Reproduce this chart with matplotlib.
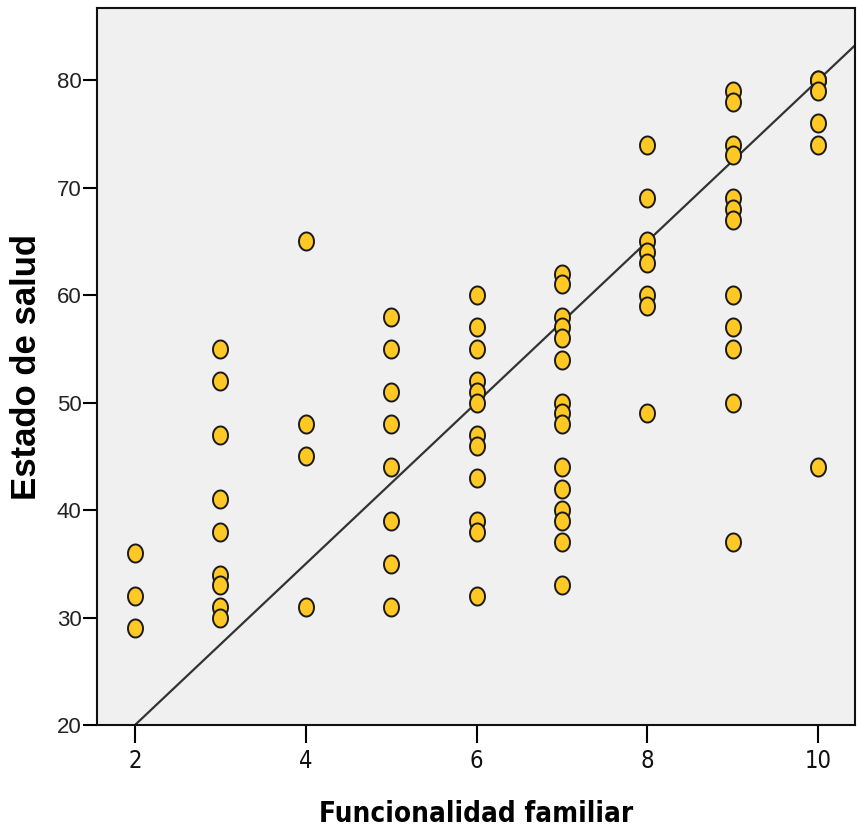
import numpy as np
import matplotlib
matplotlib.use("Agg")
import matplotlib.pyplot as plt
from matplotlib.path import Path

# Data
funcionalidad = [2, 2, 2,
                 3, 3, 3, 3, 3, 3, 3, 3, 3,
                 4, 4, 4, 4,
                 5, 5, 5, 5, 5, 5, 5, 5,
                 6, 6, 6, 6, 6, 6, 6, 6, 6, 6, 6, 6,
                 7, 7, 7, 7, 7, 7, 7, 7, 7, 7, 7, 7, 7, 7, 7,
                 8, 8, 8, 8, 8, 8, 8, 8,
                 9, 9, 9, 9, 9, 9, 9, 9, 9, 9, 9, 9,
                 10, 10, 10, 10, 10, 10]
salud = [36, 32, 29,
         55, 52, 47, 41, 38, 34, 33, 31, 30,
         65, 48, 45, 31,
         58, 55, 51, 48, 44, 39, 35, 31,
         60, 57, 55, 52, 51, 50, 47, 46, 43, 39, 38, 32,
         62, 61, 58, 57, 56, 54, 50, 49, 48, 44, 42, 40, 39, 37, 33,
         74, 69, 65, 64, 63, 60, 59, 49,
         79, 78, 74, 73, 69, 68, 67, 60, 57, 55, 50, 37,
         80, 80, 79, 76, 74, 44]
# Fit line as drawn in the reference
fit_intercept = 5.0
fit_slope = 7.5
x_ticks = [2, 4, 6, 8, 10]
y_ticks = [20, 30, 40, 50, 60, 70, 80]

x = np.array(funcionalidad, dtype=float)
y = np.array(salud, dtype=float)

fig = plt.figure(figsize=(8.57, 8.34), dpi=100)
ax = fig.add_axes([97 / 857, 1 - 725 / 834, (855 - 97) / 857, (725 - 8) / 834])
ax.set_facecolor("#F0F0F0")

xlim = (1.555, 10.43)
ylim = (20, 86.7)
ax.set_xlim(*xlim)
ax.set_ylim(*ylim)

# slightly tall elliptical marker like the stretched SPSS output
t = np.linspace(0, 2 * np.pi, 60)
verts = np.column_stack([0.83 * np.cos(t), np.sin(t)])
ell = Path(verts, closed=True)

ax.plot(x, y, linestyle="none", marker=ell, markersize=13,
        markerfacecolor="#FFC825", markeredgecolor="#1a1a1a",
        markeredgewidth=1.4, zorder=3)

xx = np.array(xlim)
ax.plot(xx, fit_intercept + fit_slope * xx, color="#333333", linewidth=1.6, zorder=2)

narrow = ["Liberation Sans Narrow", "DejaVu Sans"]
ax.set_xticks(x_ticks)
ax.set_yticks(y_ticks)
ax.set_xticklabels([str(v) for v in x_ticks], fontfamily=narrow,
                   fontstretch="condensed", fontsize=17, color="#111111")
ax.set_yticklabels([str(v) for v in y_ticks],
                   fontfamily=["Liberation Sans", "DejaVu Sans"], fontsize=16, color="#222222")
ax.tick_params(axis="y", direction="out", length=10, width=1.5, pad=1)
ax.tick_params(axis="x", direction="out", length=13, width=1.5, pad=4)
for s in ax.spines.values():
    s.set_linewidth(1.5)
    s.set_color("#111111")

ax.set_xlabel("Funcionalidad familiar", fontsize=20, fontweight="bold",
              fontfamily=narrow, fontstretch="condensed", labelpad=20)
ax.set_ylabel("Estado de salud", fontsize=25, fontweight="bold",
              fontfamily=["Liberation Sans", "DejaVu Sans"], labelpad=10)

fig.savefig("out.png", dpi=100, facecolor="white")
